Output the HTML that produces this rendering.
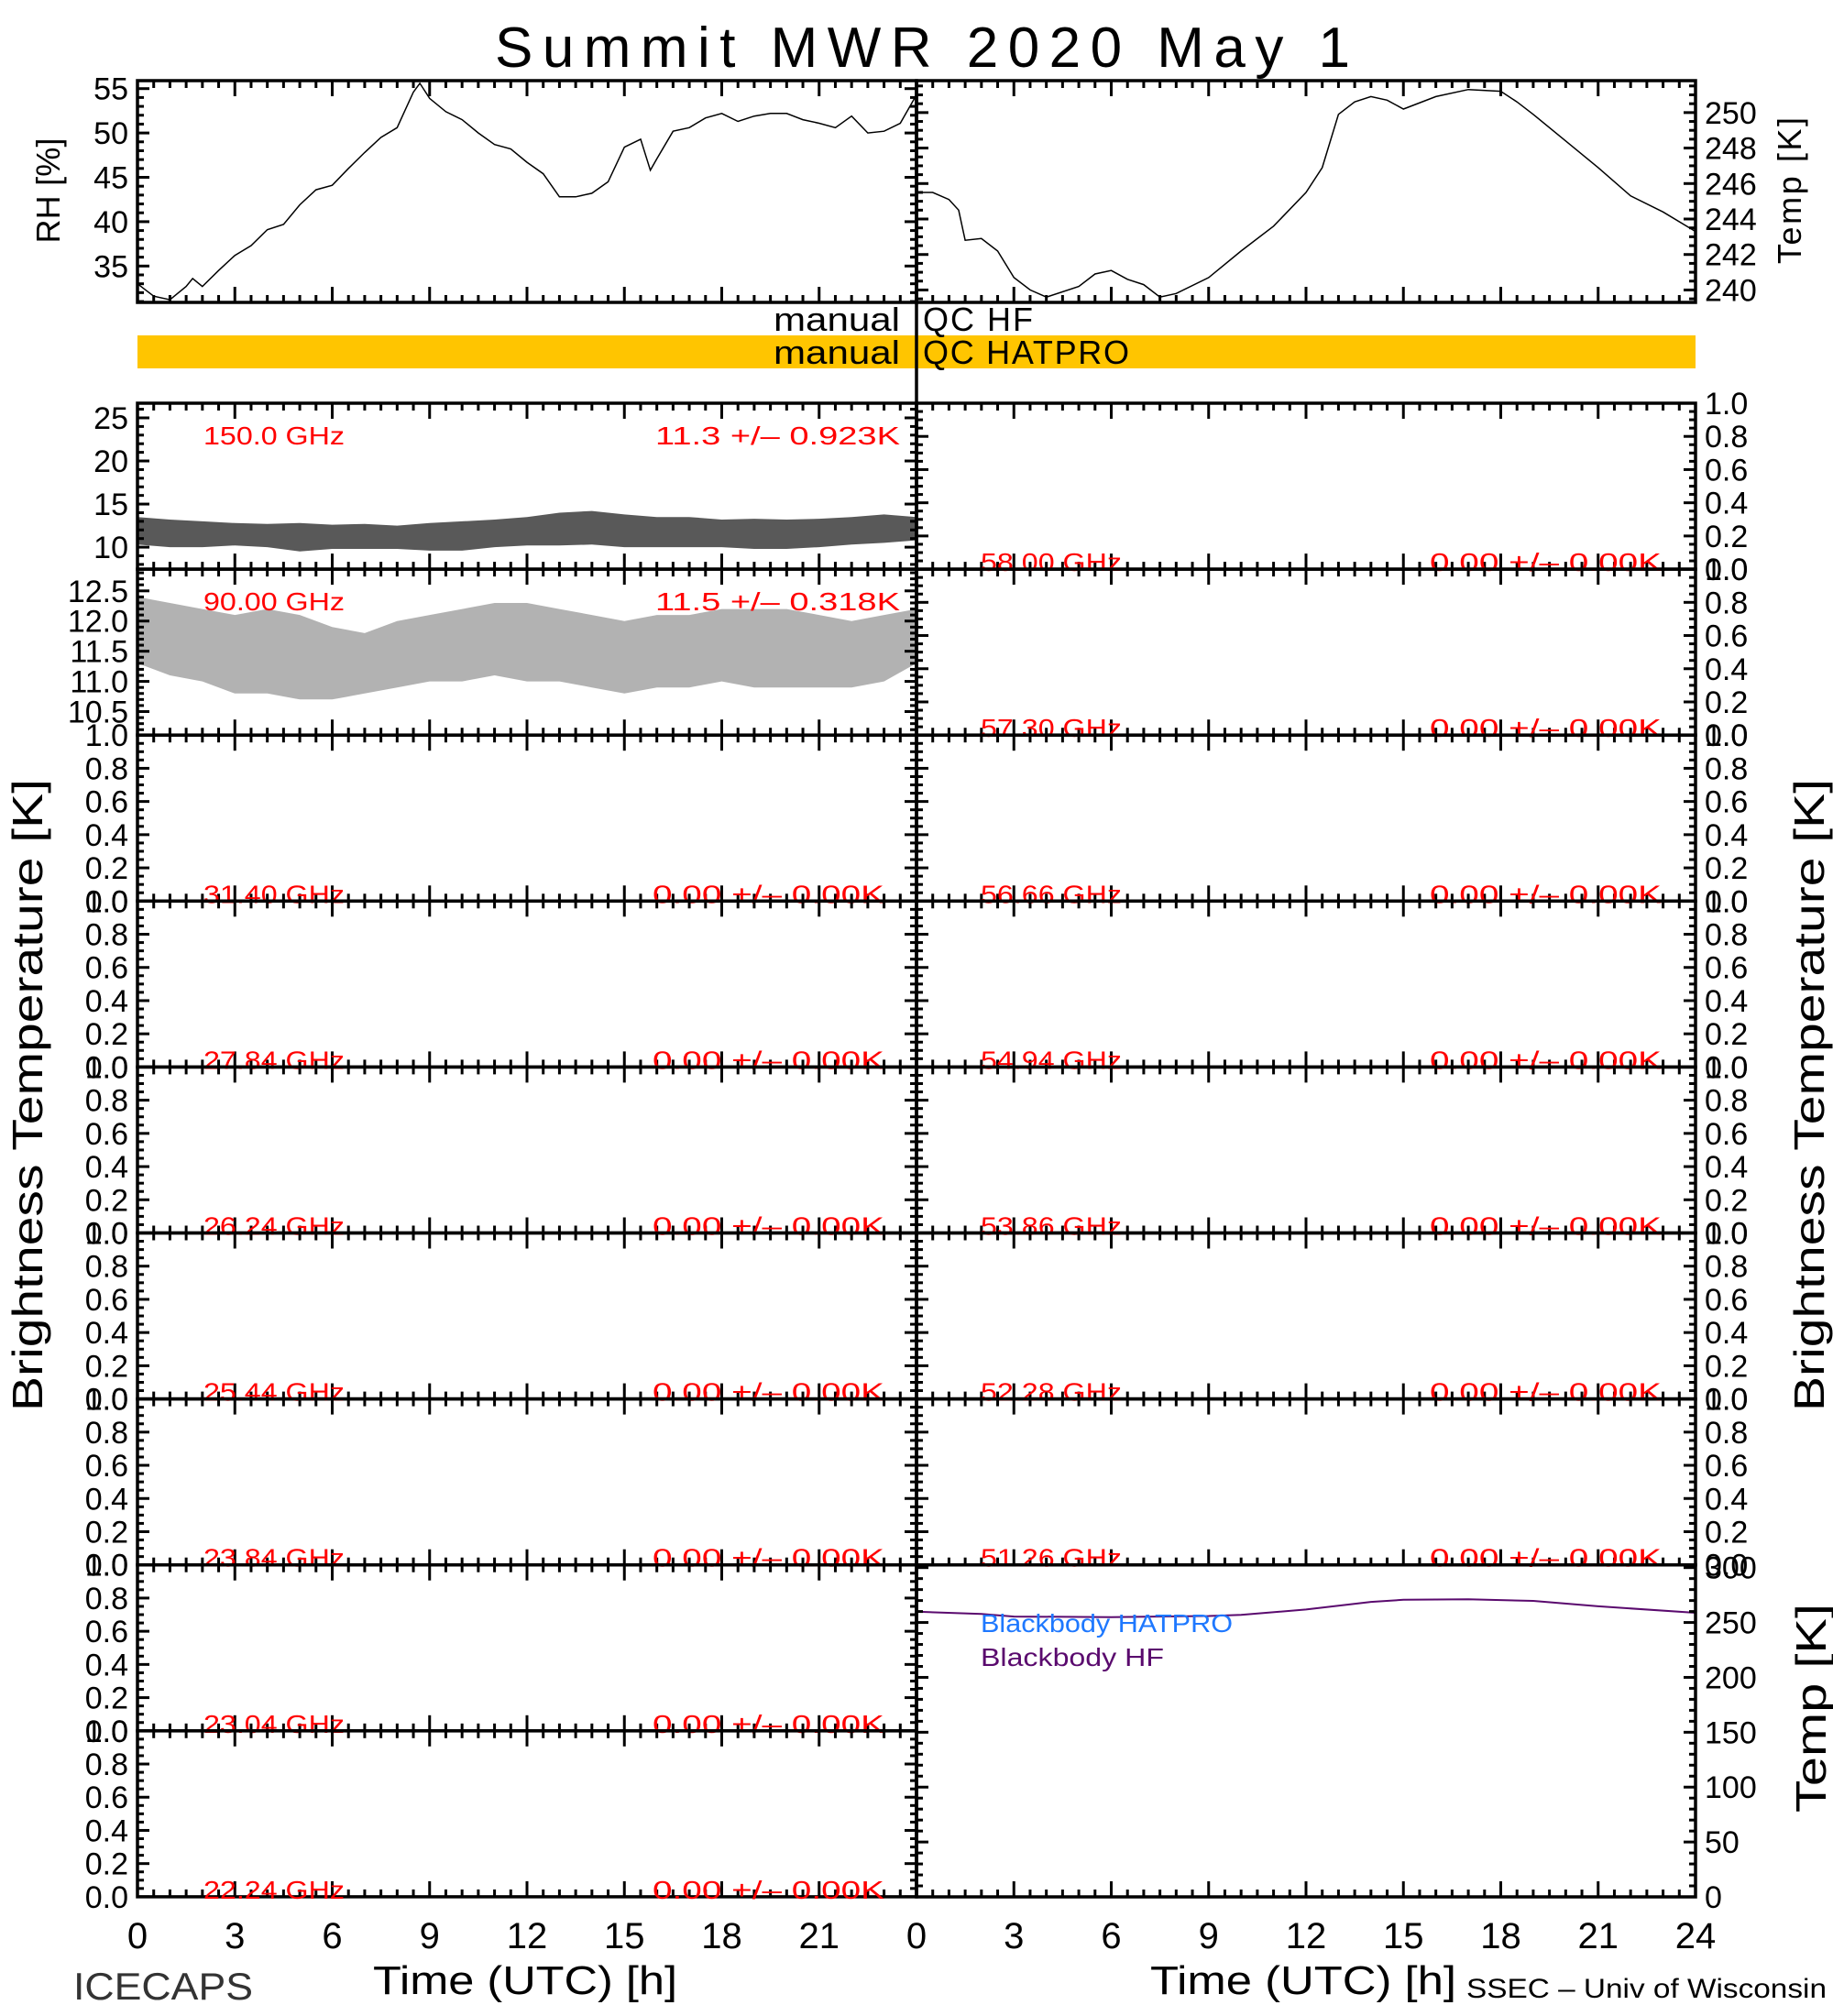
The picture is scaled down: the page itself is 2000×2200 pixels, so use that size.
<!DOCTYPE html>
<html><head><meta charset="utf-8"><style>
html,body{margin:0;padding:0;background:#fff}
svg{display:block}
text{font-family:"Liberation Sans",sans-serif}
</style></head><body>
<svg id="chart" width="2000" height="2200" viewBox="0 0 2000 2200" xmlns="http://www.w3.org/2000/svg">
<rect x="0" y="0" width="2000" height="2200" fill="#fff"/>
<text x="540" y="73" font-size="62" textLength="933" lengthAdjust="spacing">Summit  MWR  2020  May    1</text>
<rect x="150" y="366" width="1700" height="36" fill="#FFC500"/>
<text x="982" y="361" font-size="36" text-anchor="end" textLength="138" lengthAdjust="spacingAndGlyphs">manual</text>
<text x="1007" y="361" font-size="36" textLength="120" lengthAdjust="spacing">QC  HF</text>
<text x="982" y="397" font-size="36" text-anchor="end" textLength="138" lengthAdjust="spacingAndGlyphs">manual</text>
<text x="1007" y="397" font-size="36" textLength="225" lengthAdjust="spacing">QC  HATPRO</text>
<text transform="translate(65,208) rotate(-90)" font-size="36" text-anchor="middle" textLength="115" lengthAdjust="spacing">RH [%]</text>
<text transform="translate(1965,208) rotate(-90)" font-size="36" text-anchor="middle" textLength="160" lengthAdjust="spacing">Temp [K]</text>
<text transform="translate(46,1195) rotate(-90)" font-size="46" text-anchor="middle" textLength="690" lengthAdjust="spacingAndGlyphs">Brightness Temperature [K]</text>
<text transform="translate(1990,1195) rotate(-90)" font-size="46" text-anchor="middle" textLength="690" lengthAdjust="spacingAndGlyphs">Brightness Temperature [K]</text>
<text transform="translate(1992,1864) rotate(-90)" font-size="46" text-anchor="middle" textLength="228" lengthAdjust="spacingAndGlyphs">Temp [K]</text>
<text x="407" y="2176" font-size="44" textLength="332" lengthAdjust="spacingAndGlyphs">Time (UTC) [h]</text>
<text x="1255" y="2176" font-size="44" textLength="334" lengthAdjust="spacingAndGlyphs">Time (UTC) [h]</text>
<text x="80" y="2182" font-size="42" fill="#333" textLength="196" lengthAdjust="spacingAndGlyphs">ICECAPS</text>
<text x="1600" y="2180" font-size="30" textLength="393" lengthAdjust="spacingAndGlyphs">SSEC – Univ of Wisconsin</text>
<g id="plots"></g>
</svg>
<script>
const rhHours=[0,0.5,1,1.5,1.7,2,2.5,3,3.5,4,4.5,5,5.5,6,6.5,7,7.5,8,8.5,8.7,9,9.5,10,10.5,11,11.5,12,12.5,13,13.5,14,14.5,15,15.5,15.8,16,16.5,17,17.5,18,18.5,19,19.5,20,20.5,21,21.5,22,22.5,23,23.5,24];
const rhValues=[33.0,31.6,31.2,32.7,33.6,32.7,34.5,36.2,37.3,39.1,39.7,41.9,43.6,44.1,46.0,47.8,49.5,50.6,54.6,55.6,53.9,52.4,51.5,50.0,48.7,48.2,46.7,45.4,42.8,42.8,43.2,44.5,48.4,49.3,45.8,47.1,50.2,50.6,51.7,52.2,51.3,51.9,52.2,52.2,51.5,51.1,50.6,51.9,50.0,50.2,51.1,54.3];
const tempHours=[0,0.5,1,1.3,1.5,2,2.5,3,3.5,4,5,5.5,6,6.5,7,7.5,8,9,10,11,12,12.5,13,13.5,14,14.5,15,16,17,18,18.5,19,20,21,22,23,24];
const tempValues=[245.5,245.5,245.1,244.5,242.8,242.9,242.2,240.7,240.0,239.6,240.2,240.9,241.1,240.6,240.3,239.6,239.8,240.7,242.2,243.6,245.5,246.9,249.9,250.6,250.9,250.7,250.2,250.9,251.3,251.2,250.6,249.9,248.4,246.9,245.3,244.4,243.3];
const noiseHours=[0,1,2,3,4,5,6,7,8,9,10,11,12,13,14,15,16,17,18,19,20,21,22,23,24];
const tb150High=[13.5,13.2,13.0,12.8,12.7,12.8,12.6,12.7,12.5,12.8,13.0,13.2,13.5,14.0,14.2,13.8,13.5,13.5,13.2,13.3,13.2,13.3,13.5,13.8,13.5];
const tb150Low=[10.3,10.0,10.0,10.2,10.0,9.5,9.8,9.8,9.8,9.6,9.6,10.0,10.2,10.2,10.3,10.0,10.0,10.0,10.0,9.8,9.8,10.0,10.3,10.5,10.8];
const tb90High=[12.4,12.3,12.2,12.1,12.2,12.1,11.9,11.8,12.0,12.1,12.2,12.3,12.3,12.2,12.1,12.0,12.1,12.1,12.2,12.2,12.2,12.1,12.0,12.1,12.2];
const tb90Low=[11.3,11.1,11.0,10.8,10.8,10.7,10.7,10.8,10.9,11.0,11.0,11.1,11.0,11.0,10.9,10.8,10.9,10.9,11.0,10.9,10.9,10.9,10.9,11.0,11.3];
const bbHours=[0,2,3,6,9,10,12,14,15,17,19,21,24];
const bbHfValues=[263,261,258.5,258,259,260,265,272,274,274.5,273,268,262];
const bbHatproValues=[0,0,0,0,0,0,0,0,0,0,0,0,0];
const leftFreqs=["150.0 GHz","90.00 GHz","31.40 GHz","27.84 GHz","26.24 GHz","25.44 GHz","23.84 GHz","23.04 GHz","22.24 GHz"];
const leftStats=["11.3 +/\u2013 0.923K","11.5 +/\u2013 0.318K","0.00 +/\u2013 0.00K","0.00 +/\u2013 0.00K","0.00 +/\u2013 0.00K","0.00 +/\u2013 0.00K","0.00 +/\u2013 0.00K","0.00 +/\u2013 0.00K","0.00 +/\u2013 0.00K"];
const rightFreqs=["58.00 GHz","57.30 GHz","56.66 GHz","54.94 GHz","53.86 GHz","52.28 GHz","51.26 GHz"];
const xTickLabelsLeft=["0","3","6","9","12","15","18","21"];
const xTickLabelsRight=["0","3","6","9","12","15","18","21","24"];

const NS="http://www.w3.org/2000/svg";
const G=document.getElementById('plots');
function mk(tag,attrs,parent){const e=document.createElementNS(NS,tag);for(const k in attrs)e.setAttribute(k,attrs[k]);(parent||G).appendChild(e);return e;}
function xScale(x0,x1){return h=>x0+(x1-x0)*h/24;}
function yScale(y0,y1,lo,hi){return v=>y1-(v-lo)/(hi-lo)*(y1-y0);}

function frame(name,x0,x1,y0,y1){
  const r=mk('rect',{x:x0,y:y0,width:x1-x0,height:y1-y0,fill:'none',stroke:'#000','stroke-width':3.5});
  
  
}
function xTicks(name,x0,x1,y0,y1,top,bottom){
  const g=mk('g',{stroke:'#000','stroke-width':3});
  
  
  const xs=xScale(x0,x1);
  for(let i=1;i<48;i++){const x=xs(i*0.5);const L=(i%6===0)?17:8;
    if(top)mk('line',{x1:x,x2:x,y1:y0,y2:y0+L},g);
    if(bottom)mk('line',{x1:x,x2:x,y1:y1,y2:y1-L},g);}
}
function yTicks(name,x0,x1,y0,y1,lo,hi,major,minor,side,fmt,leftTicks,rightTicks){
  const g=mk('g',{stroke:'#000','stroke-width':3});
  
  
  const ys=yScale(y0,y1,lo,hi);
  const start=Math.ceil(lo/minor-1e-6);const end=Math.floor(hi/minor+1e-6);
  for(let k=start;k<=end;k++){const v=k*minor;const y=ys(v);
    const isMaj=Math.abs(v/major-Math.round(v/major))<1e-6;const L=isMaj?13:7;
    if(leftTicks)mk('line',{x1:x0,x2:x0+L,y1:y,y2:y},g);
    if(rightTicks)mk('line',{x1:x1,x2:x1-L,y1:y,y2:y},g);
    if(isMaj){const t=mk('text',{x:side==='left'?x0-10:x1+10,y:y+12,'font-size':34,'text-anchor':side==='left'?'end':'start',fill:'#000',stroke:'none'});
      
      
      t.textContent=fmt(v);}
  }
}
function polyline(name,xs,ys,hours,vals,color,w){
  const p=mk('polyline',{points:hours.map((h,i)=>xs(h).toFixed(1)+','+ys(vals[i]).toFixed(1)).join(' '),fill:'none',stroke:color,'stroke-width':w});
  
  
}
function band(name,xs,ys,hours,hi,lo,op){
  const pts=hours.map((h,i)=>xs(h).toFixed(1)+','+ys(hi[i]).toFixed(1));
  for(let i=hours.length-1;i>=0;i--)pts.push(xs(hours[i]).toFixed(1)+','+ys(lo[i]).toFixed(1));
  const p=mk('polygon',{points:pts.join(' '),fill:'#222','fill-opacity':op,stroke:'none'});
  
  
}
function redText(name,x,y,anchor,txt,color,len){
  const a={x:x,y:y,'font-size':28,fill:color||'#ff0000','text-anchor':anchor};
  if(len){a.textLength=len;a.lengthAdjust='spacingAndGlyphs';}
  const t=mk('text',a);
  
  
  t.textContent=txt;
}
const f0=v=>String(Math.round(v));
const f1=v=>v.toFixed(1);

// Top panels
const TX0=150,TM=1000,TX1=1850,TY0=88,TY1=330;
{const xs=xScale(TX0,TM),ys=yScale(TY0,TY1,30.9,55.9);
 polyline('rh-line',xs,ys,rhHours,rhValues,'#000',1.5);
 yTicks('rh',TX0,TM,TY0,TY1,30.9,55.9,5,1,'left',f0,true,true);
 xTicks('rh',TX0,TM,TY0,TY1,true,true);
 frame('rh-panel',TX0,TM,TY0,TY1);}
{const xs=xScale(TM,TX1),ys=yScale(TY0,TY1,239.3,251.8);
 polyline('air-temp-line',xs,ys,tempHours,tempValues,'#000',1.5);
 yTicks('air-temp',TM,TX1,TY0,TY1,239.3,251.8,2,0.5,'right',f0,true,true);
 xTicks('air-temp',TM,TX1,TY0,TY1,true,true);
 frame('air-temp-panel',TM,TX1,TY0,TY1);}

// Channel panels
const PT=440,PH=181.1;
for(let i=0;i<9;i++){
  const y0=PT+i*PH,y1=y0+PH;const nm='tb-'+leftFreqs[i].replace(/[ .]/g,'-').toLowerCase();
  let lo=0,hi=1,maj=0.2,mn=0.05,fmt=f1;
  if(i===0){lo=7.45;hi=26.7;maj=5;mn=1;fmt=f0;}
  if(i===1){lo=10.11;hi=12.86;maj=0.5;mn=0.1;fmt=f1;}
  const xs=xScale(TX0,TM),ys=yScale(y0,y1,lo,hi);
  if(i===0)band('tb150-series',xs,ys,noiseHours,tb150High,tb150Low,0.75);
  if(i===1)band('tb90-series',xs,ys,noiseHours,tb90High,tb90Low,0.35);
  yTicks(nm,TX0,TM,y0,y1,lo,hi,maj,mn,'left',fmt,true,true);
  xTicks(nm,TX0,TM,y0,y1,true,true);
  frame(nm+'-panel',TX0,TM,y0,y1);
  if(i<2){redText(nm+'-freq-label',222,y0+45,'start',leftFreqs[i],null,154);redText(nm+'-stats-label',982,y0+45,'end',leftStats[i],null,267);}
  else{redText(nm+'-freq-label',222,y1+2,'start',leftFreqs[i],null,154);redText(nm+'-stats-label',965,y1+2,'end',leftStats[i],null,253);}
}
for(let i=0;i<7;i++){
  const y0=PT+i*PH,y1=y0+PH;const nm='tb-'+rightFreqs[i].replace(/[ .]/g,'-').toLowerCase();
  yTicks(nm,TM,TX1,y0,y1,0,1,0.2,0.05,'right',f1,true,true);
  xTicks(nm,TM,TX1,y0,y1,true,true);
  frame(nm+'-panel',TM,TX1,y0,y1);
  redText(nm+'-freq-label',1070,y1+2,'start',rightFreqs[i],null,154);
  redText(nm+'-stats-label',1813,y1+2,'end','0.00 +/\u2013 0.00K',null,253);
}
{const y0=PT+7*PH,y1=2070;const xs=xScale(TM,TX1),ys=yScale(1715,y1,0,300);
 polyline('blackbody-hatpro-line',xs,ys,bbHours,bbHatproValues,'#1E78FF',3);
 polyline('blackbody-hf-line',xs,ys,bbHours,bbHfValues,'#5A0A6E',2);
 yTicks('blackbody',TM,TX1,y0,y1,0,302.5,50,10,'right',f0,true,true);
 xTicks('blackbody',TM,TX1,y0,y1,false,true);
 frame('blackbody-panel',TM,TX1,y0,y1);
 redText('legend-blackbody-hatpro',1070,1781,'start','Blackbody HATPRO','#1E78FF',275);
 redText('legend-blackbody-hf',1070,1818,'start','Blackbody HF','#5A0A6E',200);}

// center divider
{const l=mk('line',{x1:TM,x2:TM,y1:TY0,y2:2070,stroke:'#000','stroke-width':3.5});
 
 }

// x tick labels
xTickLabelsLeft.forEach((s,i)=>{const xs=xScale(TX0,TM);
  const t=mk('text',{x:xs(+s),y:2126,'font-size':40,'text-anchor':'middle'});
  
  
  t.textContent=s;});
xTickLabelsRight.forEach((s,i)=>{const xs=xScale(TM,TX1);
  const t=mk('text',{x:xs(+s),y:2126,'font-size':40,'text-anchor':'middle'});
  
  
  t.textContent=s;});
</script>
</body></html>
